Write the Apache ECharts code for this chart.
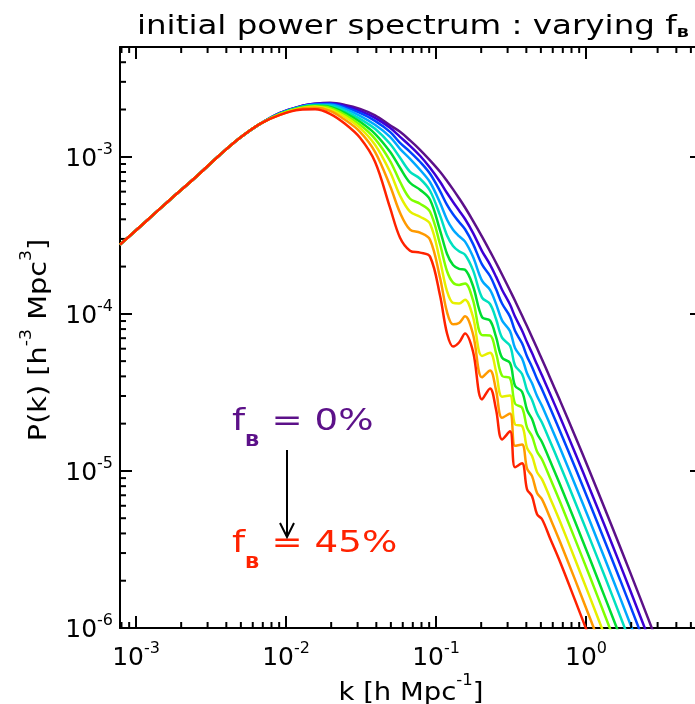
<!DOCTYPE html>
<html><head><meta charset="utf-8">
<script src="https://cdn.jsdelivr.net/npm/echarts@6/dist/echarts.min.js"></script>
<style>html,body{margin:0;padding:0;background:#fff}#c{width:695px;height:704px}</style>
</head><body><div id="c"></div>
<script>
// wavenumbers k [h/Mpc] shared by all curves
const kLow = [7.82e-4, 1.148e-3, 1.685e-3, 2.474e-3, 3.631e-3, 4.936e-3, 6.709e-3];
const pLow = [2.76e-4, 3.833e-4, 5.33e-4, 7.354e-4, 1.030e-3, 1.321e-3, 1.621e-3];
const kMain = [9.12e-3, 0.012396, 0.015606, 0.019646, 0.024733, 0.031137, 0.0392, 0.04935, 0.057544, 0.067086,
  0.078215, 0.091201, 0.10634, 0.11842, 0.12985, 0.14238, 0.15611, 0.1764, 0.20254, 0.22909, 0.25119, 0.27542,
  0.31131, 0.3362, 0.37437, 0.40435, 0.43652, 0.47149, 0.5091, 0.57544, 0.6708, 0.8445, 1.0633, 1.3386, 1.6853, 2.2909, 3.114];
// P(k) for f_B = 0% ... 45%
const p00 = [1.904e-3,2.094e-3,2.173e-3,2.205e-3,2.141e-3,2.019e-3,1.836e-3,1.586e-3,1.442e-3,1.271e-3,1.108e-3,9.487e-4,8.028e-4,7.017e-4,6.205e-4,5.447e-4,4.754e-4,3.913e-4,3.105e-4,2.500e-4,2.116e-4,1.780e-4,1.409e-4,1.211e-4,9.754e-5,8.329e-5,7.100e-5,6.035e-5,5.123e-5,3.924e-5,2.803e-5,1.669e-5,9.81e-6,5.708e-6,3.292e-6,1.561e-6,7.30e-7];
const p05 = [1.904e-3,2.094e-3,2.173e-3,2.189e-3,2.110e-3,1.961e-3,1.770e-3,1.529e-3,1.340e-3,1.175e-3,1.015e-3,8.513e-4,6.935e-4,5.878e-4,5.16e-4,4.556e-4,4.017e-4,3.278e-4,2.511e-4,2.061e-4,1.726e-4,1.425e-4,1.146e-4,9.613e-5,7.842e-5,6.589e-5,5.625e-5,4.754e-5,4.047e-5,3.100e-5,2.204e-5,1.305e-5,7.626e-6,4.425e-6,2.541e-6,1.197e-6,5.584e-7];
const p10 = [1.890e-3,2.079e-3,2.157e-3,2.173e-3,2.064e-3,1.904e-3,1.694e-3,1.442e-3,1.227e-3,1.076e-3,9.295e-4,7.796e-4,6.044e-4,4.938e-4,4.303e-4,3.845e-4,3.455e-4,2.790e-4,2.064e-4,1.742e-4,1.438e-4,1.163e-4,9.599e-5,7.796e-5,6.493e-5,5.360e-5,4.596e-5,3.845e-5,3.302e-5,2.522e-5,1.791e-5,1.054e-5,6.133e-6,3.542e-6,2.031e-6,9.542e-7,4.431e-7];
const p15 = [1.890e-3,2.079e-3,2.141e-3,2.141e-3,2.019e-3,1.822e-3,1.598e-3,1.340e-3,1.124e-3,9.711e-4,8.267e-4,6.884e-4,5.093e-4,3.977e-4,3.435e-4,3.123e-4,2.882e-4,2.307e-4,1.626e-4,1.423e-4,1.158e-4,9.093e-5,7.762e-5,6.062e-5,5.198e-5,4.185e-5,3.610e-5,2.998e-5,2.590e-5,1.975e-5,1.400e-5,8.207e-6,4.761e-6,2.737e-6,1.561e-6,7.30e-7,3.385e-7];
const p20 = [1.877e-3,2.064e-3,2.125e-3,2.110e-3,1.961e-3,1.744e-3,1.507e-3,1.210e-3,9.855e-4,8.028e-4,7.247e-4,6.079e-4,4.235e-4,3.155e-4,2.706e-4,2.500e-4,2.382e-4,1.899e-4,1.269e-4,1.156e-4,9.268e-5,7.058e-5,6.260e-5,4.692e-5,4.143e-5,3.264e-5,2.831e-5,2.320e-5,2.028e-5,1.545e-5,1.092e-5,6.361e-6,3.679e-6,2.110e-6,1.197e-6,5.584e-7,2.582e-7];
const p25 = [1.877e-3,2.064e-3,2.110e-3,2.079e-3,1.904e-3,1.669e-3,1.400e-3,1.076e-3,8.513e-4,6.834e-4,6.169e-4,5.330e-4,3.405e-4,2.407e-4,2.049e-4,1.935e-4,1.907e-4,1.504e-4,9.528e-5,9.066e-5,7.131e-5,5.259e-5,4.867e-5,3.491e-5,3.193e-5,2.442e-5,2.138e-5,1.729e-5,1.524e-5,1.161e-5,8.207e-6,4.761e-6,2.737e-6,1.561e-6,8.842e-7,4.100e-7,1.893e-7];
const p30 = [1.877e-3,2.049e-3,2.094e-3,2.049e-3,1.849e-3,1.598e-3,1.301e-3,9.431e-4,6.935e-4,5.407e-4,5.026e-4,4.471e-4,2.774e-4,1.868e-4,1.581e-4,1.529e-4,1.561e-4,1.222e-4,7.321e-5,7.289e-5,5.641e-5,4.035e-5,3.896e-5,2.682e-5,2.530e-5,1.888e-5,1.662e-5,1.330e-5,1.183e-5,9.013e-6,6.361e-6,3.679e-6,2.110e-6,1.197e-6,6.765e-7,3.132e-7,1.444e-7];
const p35 = [1.863e-3,2.034e-3,2.079e-3,2.004e-3,1.796e-3,1.529e-3,1.192e-3,8.028e-4,5.650e-4,4.471e-4,4.155e-4,3.750e-4,2.179e-4,1.392e-4,1.173e-4,1.163e-4,1.231e-4,9.556e-5,5.399e-5,5.650e-5,4.297e-5,2.972e-5,3.016e-5,1.975e-5,1.932e-5,1.400e-5,1.245e-5,9.826e-6,8.843e-6,6.735e-6,4.761e-6,2.737e-6,1.561e-6,8.842e-7,4.975e-7,2.300e-7,1.057e-7];
const p40 = [1.849e-3,2.019e-3,2.049e-3,1.961e-3,1.719e-3,1.442e-3,1.076e-3,6.541e-4,4.405e-4,3.435e-4,3.288e-4,2.968e-4,1.696e-4,1.025e-4,8.576e-5,8.741e-5,9.641e-5,7.429e-5,3.942e-5,4.360e-5,3.268e-5,2.179e-5,2.323e-5,1.446e-5,1.472e-5,1.034e-5,9.268e-6,7.236e-6,6.589e-6,5.026e-6,3.542e-6,2.031e-6,1.153e-6,6.503e-7,3.658e-7,1.686e-7,7.728e-8];
const p45 = [1.849e-3,1.990e-3,2.004e-3,1.877e-3,1.621e-3,1.321e-3,9.295e-4,4.740e-4,3.055e-4,2.526e-4,2.453e-4,2.314e-4,1.307e-4,7.495e-5,6.196e-5,6.570e-5,7.495e-5,5.759e-5,2.852e-5,3.351e-5,2.464e-5,1.588e-5,1.786e-5,1.054e-5,1.118e-5,7.638e-6,6.894e-6,5.298e-6,4.924e-6,3.728e-6,2.639e-6,1.504e-6,8.501e-7,4.803e-7,2.686e-7,1.236e-7,5.666e-8];
const seriesNames = ['f_B = 0%','f_B = 5%','f_B = 10%','f_B = 15%','f_B = 20%','f_B = 25%','f_B = 30%','f_B = 35%','f_B = 40%','f_B = 45%'];
const seriesValues = [p00,p05,p10,p15,p20,p25,p30,p35,p40,p45];
const colors = ['#5c1189','#3d00d6','#0044ff','#00a8ff','#00e0c0','#00dd30','#80ff00','#e6f000','#ff9a00','#ff2200'];
// axis extents and minor tick positions
const xMin = 7.82e-4, xMax = 5.93, yMin = 1e-6, yMax = 5.0e-3;
const xMinor = [8e-4,9e-4,2e-3,3e-3,4e-3,5e-3,6e-3,7e-3,8e-3,9e-3,0.02,0.03,0.04,0.05,0.06,0.07,0.08,0.09,0.2,0.3,0.4,0.5,0.6,0.7,0.8,0.9,2,3,4,5];
const yMinor = [2e-6,3e-6,4e-6,5e-6,6e-6,7e-6,8e-6,9e-6,2e-5,3e-5,4e-5,5e-5,6e-5,7e-5,8e-5,9e-5,2e-4,3e-4,4e-4,5e-4,6e-4,7e-4,8e-4,9e-4,2e-3,3e-3,4e-3];

const FONT = 'DejaVu Sans';
function powLabel(v){
  const l = Math.log10(v), e = Math.round(l);
  if (Math.abs(l - e) > 1e-3) return '';
  return '{b|10}{s|' + (e < 0 ? '-' : '') + Math.abs(e) + '}';
}
const labRich = {
  b:{fontSize:25, fontFamily:FONT, color:'#000', lineHeight:30, verticalAlign:'bottom'},
  s:{fontSize:16, fontFamily:FONT, color:'#000', lineHeight:30, verticalAlign:'top'}
};
const tickStyle = {show:true, inside:true, length:12, lineStyle:{color:'#000', width:2}};
const lineStyle = {show:true, lineStyle:{color:'#000', width:2}};

const series = seriesValues.map((vals, i) => ({
  name: seriesNames[i], type:'line', smooth:0.35, symbol:'none', clip:true,
  lineStyle:{color:colors[i], width:2.5}, z: 3 + i,
  data: kLow.map((k,j)=>[k,pLow[j]]).concat(kMain.map((k,j)=>[k,vals[j]]))
}));
series.push({
  type:'custom', silent:true, clip:false, z:10, xAxisIndex:0, yAxisIndex:0,
  data: xMinor.map(v=>[v, yMin]),
  renderItem(params, api){
    const v = api.value(0), b = api.coord([v, yMin]), t = api.coord([v, yMax]);
    return {type:'group', children:[
      {type:'line', shape:{x1:b[0],y1:b[1],x2:b[0],y2:b[1]-6}, style:{stroke:'#000',lineWidth:2}},
      {type:'line', shape:{x1:t[0],y1:t[1],x2:t[0],y2:t[1]+6}, style:{stroke:'#000',lineWidth:2}}]};
  }
});
series.push({
  type:'custom', silent:true, clip:false, z:10, xAxisIndex:0, yAxisIndex:0,
  data: yMinor.map(v=>[xMin, v]),
  renderItem(params, api){
    const v = api.value(1), l = api.coord([xMin, v]), r = api.coord([xMax, v]);
    return {type:'group', children:[
      {type:'line', shape:{x1:l[0],y1:l[1],x2:l[0]+6,y2:l[1]}, style:{stroke:'#000',lineWidth:2}},
      {type:'line', shape:{x1:r[0],y1:r[1],x2:r[0]-6,y2:r[1]}, style:{stroke:'#000',lineWidth:2}}]};
  }
});

const chart = echarts.init(document.getElementById('c'), null, {renderer:'canvas'});
chart.setOption({
  animation:false,
  backgroundColor:'#fff',
  grid:{left:120, top:47, width:582, height:581, containLabel:false, outerBoundsMode:'none'},
  xAxis:[
    {type:'log', min:xMin, max:xMax, position:'bottom', axisLine:lineStyle, axisTick:tickStyle, splitLine:{show:false},
     axisLabel:{margin:13, formatter:powLabel, rich:labRich}},
    {type:'log', min:xMin, max:xMax, position:'top', axisLine:lineStyle, axisTick:tickStyle, splitLine:{show:false}, axisLabel:{show:false}}
  ],
  yAxis:[
    {type:'log', min:yMin, max:yMax, position:'left', axisLine:lineStyle, axisTick:tickStyle, splitLine:{show:false},
     axisLabel:{margin:7, formatter:powLabel, rich:labRich}},
    {type:'log', min:yMin, max:yMax, position:'right', axisLine:lineStyle, axisTick:tickStyle, splitLine:{show:false}, axisLabel:{show:false}}
  ],
  series: series,
  graphic:[
    {type:'text', x:413, y:25, scaleX:1.25, style:{text:'{n|initial power spectrum : varying f}{b|B}', align:'center', verticalAlign:'middle',
      rich:{n:{fontSize:26, fontFamily:FONT, fill:'#000', lineHeight:30, verticalAlign:'bottom'}, b:{fontSize:13, fontWeight:'bold', fontFamily:FONT, fill:'#000', lineHeight:30, verticalAlign:'bottom'}}}},
    {type:'text', x:411, y:690, scaleX:1.1, style:{text:'{n|k [h Mpc}{s|-1}{n|]}', align:'center', verticalAlign:'middle',
      rich:{n:{fontSize:25, fontFamily:FONT, fill:'#000', lineHeight:32, verticalAlign:'bottom'}, s:{fontSize:15, fontFamily:FONT, fill:'#000', lineHeight:32, verticalAlign:'top'}}}},
    {type:'text', x:36, y:340, rotation:Math.PI/2, scaleX:1.15, style:{text:'{n|P(k) [h}{s|-3}{n| Mpc}{s|3}{n|]}', align:'center', verticalAlign:'middle',
      rich:{n:{fontSize:25, fontFamily:FONT, fill:'#000', lineHeight:32, verticalAlign:'bottom'}, s:{fontSize:15, fontFamily:FONT, fill:'#000', lineHeight:32, verticalAlign:'top'}}}},
    {type:'text', x:232, y:428, scaleX:1.2, style:{text:'{f|f}{b|B}{f| = 0%}', align:'left', verticalAlign:'middle',
      rich:{f:{fontSize:31, fontFamily:FONT, fill:colors[0], lineHeight:44, verticalAlign:'top'}, b:{fontSize:16, fontWeight:'bold', fontFamily:FONT, fill:colors[0], lineHeight:44, verticalAlign:'bottom'}}}},
    {type:'text', x:232, y:550, scaleX:1.2, style:{text:'{f|f}{b|B}{f| = 45%}', align:'left', verticalAlign:'middle',
      rich:{f:{fontSize:31, fontFamily:FONT, fill:colors[9], lineHeight:44, verticalAlign:'top'}, b:{fontSize:16, fontWeight:'bold', fontFamily:FONT, fill:colors[9], lineHeight:44, verticalAlign:'bottom'}}}},
    {type:'line', shape:{x1:287, y1:450, x2:287, y2:536}, style:{stroke:'#000', lineWidth:2}},
    {type:'polyline', shape:{points:[[280,523],[287,537],[294,523]]}, style:{stroke:'#000', lineWidth:2, fill:null}}
  ]
});
</script>
</body></html>
